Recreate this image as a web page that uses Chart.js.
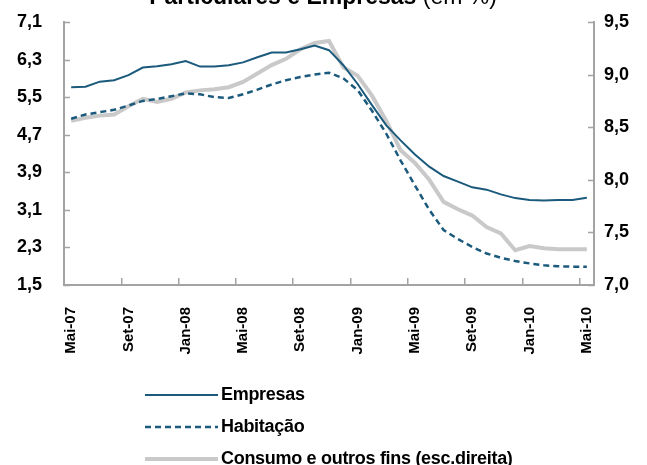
<!DOCTYPE html>
<html>
<head>
<meta charset="utf-8">
<script src="https://cdn.jsdelivr.net/npm/chart.js@4.4.1/dist/chart.umd.min.js"></script>
<style>
  html, body { margin: 0; padding: 0; background: #ffffff; }
  #wrap { position: relative; width: 647px; height: 465px; }
</style>
</head>
<body>
<div id="wrap"><canvas id="c" width="647" height="465"></canvas></div>
<script>
// ---- data ----
const months = ['Mai-07','Jun-07','Jul-07','Ago-07','Set-07','Out-07','Nov-07','Dez-07',
  'Jan-08','Fev-08','Mar-08','Abr-08','Mai-08','Jun-08','Jul-08','Ago-08','Set-08','Out-08','Nov-08','Dez-08',
  'Jan-09','Fev-09','Mar-09','Abr-09','Mai-09','Jun-09','Jul-09','Ago-09','Set-09','Out-09','Nov-09','Dez-09',
  'Jan-10','Fev-10','Mar-10','Abr-10','Mai-10'];

const empresas = [5.71,5.72,5.83,5.86,5.97,6.13,6.16,6.20,6.27,6.15,6.15,6.18,6.24,6.35,6.45,6.45,6.52,6.60,6.50,
  6.18,5.78,5.33,4.90,4.58,4.28,4.02,3.82,3.70,3.58,3.53,3.43,3.35,3.31,3.30,3.31,3.31,3.36];

const habitacao = [5.04,5.13,5.18,5.23,5.32,5.42,5.46,5.52,5.58,5.56,5.50,5.48,5.56,5.66,5.77,5.86,5.93,5.98,6.02,
  5.90,5.65,5.21,4.72,4.15,3.62,3.10,2.67,2.48,2.31,2.17,2.08,2.01,1.96,1.92,1.90,1.89,1.89];

const consumo = [8.56,8.59,8.61,8.62,8.70,8.77,8.74,8.77,8.83,8.85,8.86,8.88,8.93,9.01,9.09,9.15,9.24,9.30,9.32,
  9.07,8.99,8.80,8.56,8.28,8.16,8.00,7.79,7.72,7.66,7.55,7.49,7.33,7.37,7.35,7.34,7.34,7.34];

const seriesNames = ['Empresas', 'Habitação', 'Consumo e outros fins (esc.direita)'];
const leftTicks = [1.5, 2.3, 3.1, 3.9, 4.7, 5.5, 6.3, 7.1];
const rightTicks = [7.0, 7.5, 8.0, 8.5, 9.0, 9.5];
const titleBold = 'Particulares e Empresas';
const titleNormal = ' (em %)';
const labelEvery = 4;

// ---- styles ----
const BLUE = '#1b5a7c';
const GREY = '#c9c9c9';
const AXIS = '#a3a3a3';
const FONT = "'Liberation Sans', Arial, sans-serif";
const fmt = v => Number(v).toFixed(1).replace('.', ',');

const titlePlugin = {
  id: 'cutTitle',
  afterDraw(chart) {
    const ctx = chart.ctx;
    ctx.save();
    ctx.fillStyle = '#000';
    ctx.textBaseline = 'alphabetic';
    ctx.font = 'bold 23px ' + FONT;
    const w1 = ctx.measureText(titleBold).width;
    ctx.font = '23px ' + FONT;
    const w2 = ctx.measureText(titleNormal).width;
    const x0 = 323 - (w1 + w2) / 2;
    ctx.font = 'bold 23px ' + FONT;
    ctx.textAlign = 'left';
    ctx.fillText(titleBold, x0, 4);
    ctx.font = '23px ' + FONT;
    ctx.fillText(titleNormal, x0 + w1, 4);
    ctx.restore();
  }
};

// short inward tick marks on the two value axes, at the scale's own ticks
const innerTicksPlugin = {
  id: 'innerTicks',
  afterDatasetsDraw(chart) {
    const ctx = chart.ctx;
    const len = 6;
    ctx.save();
    ctx.strokeStyle = AXIS;
    ctx.lineWidth = 1.5;
    ['y', 'y2'].forEach(id => {
      const s = chart.scales[id];
      const xBase = id === 'y' ? s.right : s.left;
      const dir = id === 'y' ? 1 : -1;
      s.ticks.forEach(t => {
        const py = Math.round(s.getPixelForValue(t.value)) + 0.5;
        ctx.beginPath();
        ctx.moveTo(xBase, py);
        ctx.lineTo(xBase + dir * len, py);
        ctx.stroke();
      });
    });
    ctx.restore();
  }
};

const legendPlugin = {
  id: 'vertLegend',
  afterDraw(chart) {
    const ctx = chart.ctx;
    const opts = chart.options.plugins.vertLegend;
    ctx.save();
    chart.data.datasets.forEach((ds, i) => {
      const y = opts.top + i * opts.rowGap;
      ctx.beginPath();
      ctx.strokeStyle = ds.borderColor;
      ctx.lineWidth = ds.borderWidth;
      ctx.setLineDash(ds.borderDash || []);
      ctx.moveTo(opts.x, y);
      ctx.lineTo(opts.x + opts.lineLen, y);
      ctx.stroke();
      ctx.setLineDash([]);
      ctx.fillStyle = '#000';
      ctx.font = 'bold 18px ' + FONT;
      if ('letterSpacing' in ctx) ctx.letterSpacing = '-0.3px';
      ctx.textBaseline = 'middle';
      ctx.textAlign = 'left';
      ctx.fillText(ds.label, opts.x + opts.lineLen + opts.gap, y);
    });
    ctx.restore();
  }
};

new Chart(document.getElementById('c'), {
  type: 'line',
  data: {
    labels: months,
    datasets: [
      { label: seriesNames[0], data: empresas, yAxisID: 'y', borderColor: BLUE, backgroundColor: BLUE,
        borderWidth: 2, pointRadius: 0, tension: 0, fill: false },
      { label: seriesNames[1], data: habitacao, yAxisID: 'y', borderColor: BLUE, backgroundColor: BLUE,
        borderWidth: 2.5, borderDash: [6, 4], pointRadius: 0, tension: 0, fill: false },
      { label: seriesNames[2], data: consumo, yAxisID: 'y2', borderColor: GREY, backgroundColor: GREY,
        borderWidth: 4, pointRadius: 0, tension: 0, fill: false }
    ]
  },
  options: {
    responsive: false,
    animation: false,
    devicePixelRatio: 1,
    layout: { padding: { top: 22, left: 0, right: 0, bottom: 105 } },
    plugins: {
      legend: { display: false },
      title: { display: false },
      tooltip: { enabled: false },
      vertLegend: { x: 145, lineLen: 73, gap: 3, top: 395, rowGap: 32 }
    },
    scales: {
      x: {
        type: 'category',
        offset: true,
        grid: {
          offset: true,
          drawOnChartArea: false,
          drawTicks: true,
          tickLength: -7,
          lineWidth: 1.5,
          color: c => (c.index !== undefined && c.index % labelEvery === 0) ? AXIS : 'rgba(0,0,0,0)'
        },
        border: { display: true, color: AXIS, width: 2 },
        ticks: {
          autoSkip: false,
          minRotation: 90,
          maxRotation: 90,
          padding: 29,
          color: '#000',
          font: { family: FONT, size: 15, weight: 'bold' },
          callback: (v, i) => (i % labelEvery === 0 ? months[i] : '')
        },
        afterFit: s => { s.height = 75; }
      },
      y: {
        position: 'left',
        min: leftTicks[0],
        max: leftTicks[leftTicks.length - 1],
        afterBuildTicks: s => { s.ticks = leftTicks.map(v => ({ value: v })); },
        grid: { drawOnChartArea: false, drawTicks: true, tickLength: 22, tickColor: 'rgba(0,0,0,0)' },
        border: { display: true, color: AXIS, width: 2 },
        ticks: { padding: 0, color: '#000', font: { family: FONT, size: 18, weight: 'bold' }, callback: v => fmt(v) },
        afterFit: s => { s.width = 64; }
      },
      y2: {
        position: 'right',
        min: rightTicks[0],
        max: rightTicks[rightTicks.length - 1],
        afterBuildTicks: s => { s.ticks = rightTicks.map(v => ({ value: v })); },
        grid: { drawOnChartArea: false, drawTicks: true, tickLength: 10, tickColor: 'rgba(0,0,0,0)' },
        border: { display: true, color: AXIS, width: 2 },
        ticks: { padding: 0, color: '#000', font: { family: FONT, size: 18, weight: 'bold' }, callback: v => fmt(v) },
        afterFit: s => { s.width = 53; }
      }
    }
  },
  plugins: [titlePlugin, innerTicksPlugin, legendPlugin]
});
</script>
</body>
</html>
